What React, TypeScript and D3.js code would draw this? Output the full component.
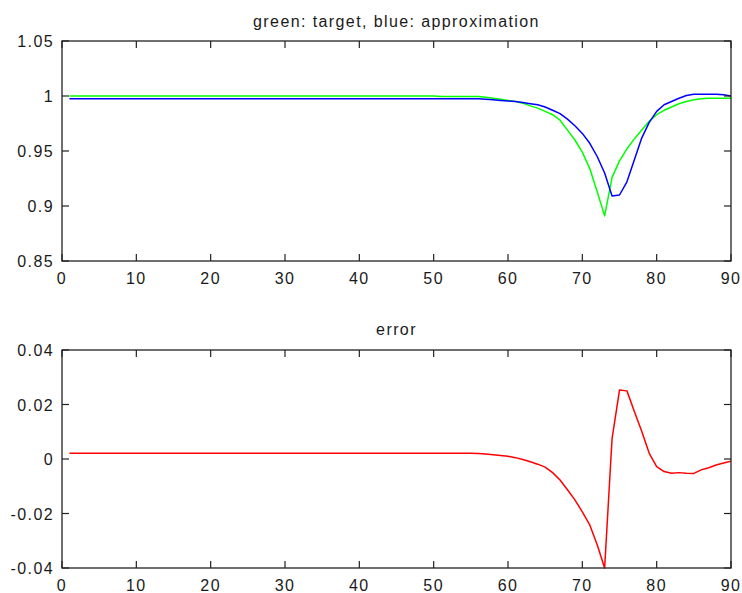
import React from "react";
import * as d3 from "d3";

const xs: number[] = [
  1, 2, 3, 4, 5, 6, 7, 8, 9, 10, 11, 12, 13, 14, 15, 16, 17, 18, 19, 20,
  21, 22, 23, 24, 25, 26, 27, 28, 29, 30, 31, 32, 33, 34, 35, 36, 37, 38, 39, 40,
  41, 42, 43, 44, 45, 46, 47, 48, 49, 50, 51, 52, 53, 54, 55, 56, 57, 58, 59, 60,
  61, 62, 63, 64, 65, 66, 67, 68, 69, 70, 71, 72, 73, 74, 75, 76, 77, 78, 79, 80,
  81, 82, 83, 84, 85, 86, 87, 88, 89, 90,
];

const target: number[] = [
  1, 1, 1, 1, 1, 1, 1, 1, 1, 1, 1, 1, 1, 1, 1, 1, 1, 1, 1, 1,
  1, 1, 1, 1, 1, 1, 1, 1, 1, 1, 1, 1, 1, 1, 1, 1, 1, 1, 1, 1,
  1, 1, 1, 1, 1, 1, 1, 1, 1, 1, 0.9995, 0.9995, 0.9995, 0.9995, 0.9995, 0.9995, 0.9988, 0.998, 0.997, 0.996,
  0.995, 0.9935, 0.991, 0.989, 0.986, 0.983, 0.978, 0.969, 0.96, 0.949, 0.934, 0.913, 0.891, 0.926, 0.941, 0.952, 0.961, 0.969, 0.977, 0.983,
  0.987, 0.99, 0.993, 0.995, 0.9965, 0.9975, 0.998, 0.998, 0.998, 0.998,
];

const approx: number[] = [
  0.9975, 0.9975, 0.9975, 0.9975, 0.9975, 0.9975, 0.9975, 0.9975, 0.9975, 0.9975,
  0.9975, 0.9975, 0.9975, 0.9975, 0.9975, 0.9975, 0.9975, 0.9975, 0.9975, 0.9975,
  0.9975, 0.9975, 0.9975, 0.9975, 0.9975, 0.9975, 0.9975, 0.9975, 0.9975, 0.9975,
  0.9975, 0.9975, 0.9975, 0.9975, 0.9975, 0.9975, 0.9975, 0.9975, 0.9975, 0.9975,
  0.9975, 0.9975, 0.9975, 0.9975, 0.9975, 0.9975, 0.9975, 0.9975, 0.9975, 0.9975,
  0.9975, 0.9975, 0.9975, 0.9975, 0.9975, 0.9975, 0.997, 0.9965, 0.996, 0.9955,
  0.995, 0.994, 0.993, 0.992, 0.99, 0.987, 0.984, 0.979, 0.973, 0.966,
  0.957, 0.945, 0.93, 0.909, 0.91, 0.922, 0.942, 0.962, 0.976, 0.986,
  0.992, 0.995, 0.998, 1.0005, 1.0015, 1.0015, 1.0015, 1.0015, 1.0012, 1.0,
];

const errorVals: number[] = [
  0.0021, 0.0021, 0.0021, 0.0021, 0.0021, 0.0021, 0.0021, 0.0021, 0.0021, 0.0021,
  0.0021, 0.0021, 0.0021, 0.0021, 0.0021, 0.0021, 0.0021, 0.0021, 0.0021, 0.0021,
  0.0021, 0.0021, 0.0021, 0.0021, 0.0021, 0.0021, 0.0021, 0.0021, 0.0021, 0.0021,
  0.0021, 0.0021, 0.0021, 0.0021, 0.0021, 0.0021, 0.0021, 0.0021, 0.0021, 0.0021,
  0.0021, 0.0021, 0.0021, 0.0021, 0.0021, 0.0021, 0.0021, 0.0021, 0.0021, 0.0021,
  0.0021, 0.0021, 0.0021, 0.0021, 0.0021, 0.002, 0.0018, 0.0016, 0.0013, 0.001,
  0.0005, -0.0002, -0.001, -0.0019, -0.003, -0.005, -0.0077, -0.0113, -0.015, -0.0194,
  -0.0242, -0.0315, -0.04, 0.0075, 0.0253, 0.025, 0.0174, 0.0101, 0.0021, -0.0028,
  -0.0046, -0.0052, -0.005, -0.0052, -0.0053, -0.004, -0.0032, -0.0022, -0.0015, -0.0008,
];

const xTicks: number[] = [0, 10, 20, 30, 40, 50, 60, 70, 80, 90];
const topTicks: number[] = [0.85, 0.9, 0.95, 1, 1.05];
const topTickLabels: string[] = ["0.85", "0.9", "0.95", "1", "1.05"];
const errTicks: number[] = [-0.04, -0.02, 0, 0.02, 0.04];
const errTickLabels: string[] = ["-0.04", "-0.02", "0", "0.02", "0.04"];

const W = 742;
const H = 593;
const LEFT = 62;
const RIGHT = 731;
const FONT = "'Liberation Sans', Arial, Helvetica, sans-serif";
const TXT = "#1a1a1a";
const AX = "#222";
const TICK = 7;
const LS = 1.4;

type PanelProps = {
  top: number;
  bottom: number;
  domain: [number, number];
  ticks: number[];
  tickLabels: string[];
  title: string;
  titleY: number;
  series: { values: number[]; color: string }[];
  id: string;
};

function Panel({ top, bottom, domain, ticks, tickLabels, title, titleY, series, id }: PanelProps) {
  const x = d3.scaleLinear().domain([0, 90]).range([LEFT, RIGHT]);
  const y = d3.scaleLinear().domain(domain).range([bottom, top]);
  const line = d3
    .line<number>()
    .x((_, i) => x(xs[i]))
    .y((d) => y(d));
  return (
    <g>
      <defs>
        <clipPath id={id}>
          <rect x={LEFT} y={top - 1} width={RIGHT - LEFT} height={bottom - top + 2} />
        </clipPath>
      </defs>
      <rect x={LEFT} y={top} width={RIGHT - LEFT} height={bottom - top} fill="#fff" />
      <g clipPath={`url(#${id})`}>
        {series.map((s, k) => (
          <path key={k} d={line(s.values) || ""} fill="none" stroke={s.color} strokeWidth={1.5} strokeLinejoin="round" />
        ))}
      </g>
      <rect x={LEFT} y={top} width={RIGHT - LEFT} height={bottom - top} fill="none" stroke={AX} strokeWidth={1.3} />
      {xTicks.map((t) => (
        <g key={"x" + t}>
          <line x1={x(t)} x2={x(t)} y1={bottom} y2={bottom - TICK} stroke={AX} strokeWidth={1.2} />
          <line x1={x(t)} x2={x(t)} y1={top} y2={top + TICK} stroke={AX} strokeWidth={1.2} />
          <text x={x(t)} y={bottom + 22.5} textAnchor="middle" fontSize={16} fontFamily={FONT} fill={TXT} letterSpacing={LS}>
            {String(t)}
          </text>
        </g>
      ))}
      {ticks.map((t, i) => (
        <g key={"y" + t}>
          <line x1={LEFT} x2={LEFT + TICK} y1={y(t)} y2={y(t)} stroke={AX} strokeWidth={1.2} />
          <line x1={RIGHT} x2={RIGHT - TICK} y1={y(t)} y2={y(t)} stroke={AX} strokeWidth={1.2} />
          <text x={LEFT - 8} y={y(t) + 6} textAnchor="end" fontSize={16} fontFamily={FONT} fill={TXT} letterSpacing={LS}>
            {tickLabels[i]}
          </text>
        </g>
      ))}
      <text x={(LEFT + RIGHT) / 2} y={titleY} textAnchor="middle" fontSize={16} fontFamily={FONT} fill={TXT} letterSpacing={LS}>
        {title}
      </text>
    </g>
  );
}

export default function App() {
  return (
    <svg
      width={W}
      height={H}
      style={{ position: "absolute", left: 0, top: 0, background: "#fff" }}
    >
      <rect x={0} y={0} width={W} height={H} fill="#fff" />
      <Panel
        id="clipTop"
        top={41}
        bottom={261}
        domain={[0.85, 1.05]}
        ticks={topTicks}
        tickLabels={topTickLabels}
        title="green: target, blue: approximation"
        titleY={27}
        series={[
          { values: target, color: "#00ff00" },
          { values: approx, color: "#0000ff" },
        ]}
      />
      <Panel
        id="clipErr"
        top={350}
        bottom={568}
        domain={[-0.04, 0.04]}
        ticks={errTicks}
        tickLabels={errTickLabels}
        title="error"
        titleY={335}
        series={[{ values: errorVals, color: "#ff0000" }]}
      />
    </svg>
  );
}
